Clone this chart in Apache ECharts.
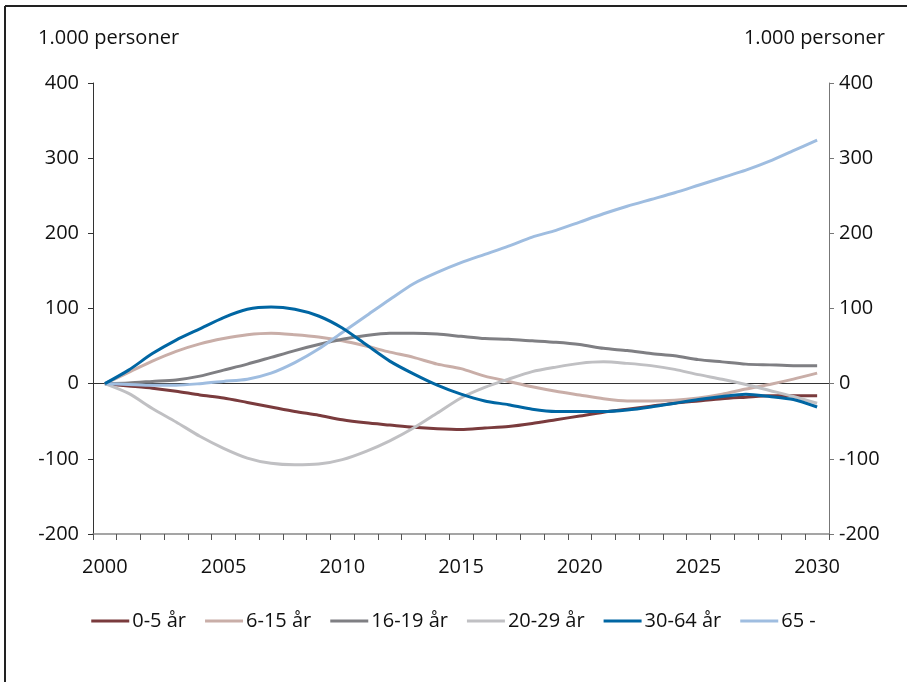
<!DOCTYPE html>
<html><head><meta charset="utf-8">
<script src="https://cdn.jsdelivr.net/npm/echarts@6/dist/echarts.min.js"></script>
<style>html,body{margin:0;padding:0;background:#fff}#c{width:907px;height:682px}</style>
</head><body><div id="c"></div>
<script>
const years = [];
for (let y = 2000; y <= 2030; y++) years.push(String(y));
const seriesNames = ['0-5 år', '6-15 år', '16-19 år', '20-29 år', '30-64 år', '65 -'];
const age0_5   = [0,-3,-6,-10,-15,-19,-25,-31,-37,-42,-48,-52,-55,-58,-60,-61,-59,-57,-53,-48,-43,-38,-34,-30,-26,-23,-20,-18,-16,-16,-16];
const age6_15  = [0,15,30,43,53,60,65,67,65,62,57,50,42,35,26,20,10,3,-4,-10,-15,-20,-23,-23,-22,-19,-14,-7,-1,6,14];
const age16_19 = [0,1,3,5,10,18,26,35,44,52,59,64,67,67,66,63,60,59,57,55,52,47,44,40,37,32,29,26,25,24,24];
const age20_29 = [0,-13,-33,-51,-70,-86,-99,-106,-108,-107,-101,-90,-76,-59,-39,-19,-5,6,16,22,27,29,27,24,19,12,6,-1,-9,-17,-26];
const age30_64 = [0,18,40,58,73,88,99,102,99,90,74,52,30,13,-2,-14,-23,-28,-34,-37,-37,-37,-35,-31,-26,-21,-17,-14,-17,-21,-31];
const age65    = [0,-1,-2,-2,0,3,6,14,28,46,68,90,112,133,148,161,172,183,195,204,215,226,236,245,254,264,274,284,296,310,324];
const colors = ['#7a3b3d', '#c9aea8', '#7f7f83', '#c0c0c3', '#0066a3', '#9fbde0'];
const allData = [age0_5, age6_15, age16_19, age20_29, age30_64, age65];

const chart = echarts.init(document.getElementById('c'));
const fontAx = '"Open Sans", "Noto Sans", sans-serif';
const series = seriesNames.map((n, i) => ({
  name: n, type: 'line', data: allData[i], symbol: 'none', smooth: 0.25,
  lineStyle: { color: colors[i], width: 3 }, itemStyle: { color: colors[i] },
  z: i === 4 ? 5 : 3
}));
series[0].markLine = {
  silent: true, symbol: 'none', label: { show: false },
  lineStyle: { color: '#333', width: 1, type: 'solid' },
  data: [{ yAxis: 0 }], z: 1
};
chart.setOption({
  animation: false,
  grid: { left: 93, right: 78, top: 83, bottom: 148 },
  graphic: [
    { type: 'line', shape: { x1: 5, y1: 6, x2: 907, y2: 6 }, style: { stroke: '#222', lineWidth: 2 } },
    { type: 'line', shape: { x1: 5, y1: 6, x2: 5, y2: 682 }, style: { stroke: '#222', lineWidth: 2 } },
    { type: 'text', left: 38, top: 28, style: { text: '1.000 personer', font: '20px ' + fontAx, fill: '#111' } },
    { type: 'text', right: 22, top: 28, style: { text: '1.000 personer', font: '20px ' + fontAx, fill: '#111' } }
  ],
  legend: {
    bottom: 46, left: 'center', itemWidth: 38, itemHeight: 3, itemGap: 19,
    icon: 'rect',
    textStyle: { fontFamily: fontAx, fontSize: 20, color: '#111', padding: [0, 0, 0, -2] },
    data: seriesNames
  },
  xAxis: {
    type: 'category', data: years, boundaryGap: true,
    axisLine: { show: true, onZero: false, lineStyle: { color: '#888', width: 1.5 } },
    axisTick: { show: true, interval: 0, length: 6, lineStyle: { color: '#555' } },
    axisLabel: { interval: 0, fontFamily: fontAx, fontSize: 20, color: '#111', margin: 23,
      formatter: (v, i) => (i % 5 === 0 ? v : '') },
    splitLine: { show: false }
  },
  yAxis: [
    { type: 'value', min: -200, max: 400, interval: 100, position: 'left',
      axisLine: { show: true, lineStyle: { color: '#333' } },
      axisTick: { show: true, length: 5, lineStyle: { color: '#333' } },
      axisLabel: { fontFamily: fontAx, fontSize: 20, color: '#111', margin: 14 },
      splitLine: { show: false } },
    { type: 'value', min: -200, max: 400, interval: 100, position: 'right',
      axisLine: { show: true, lineStyle: { color: '#777' } },
      axisTick: { show: true, length: 5, lineStyle: { color: '#777' } },
      axisLabel: { fontFamily: fontAx, fontSize: 20, color: '#111', margin: 10 },
      splitLine: { show: false } }
  ],
  series: series
});
</script></body></html>
